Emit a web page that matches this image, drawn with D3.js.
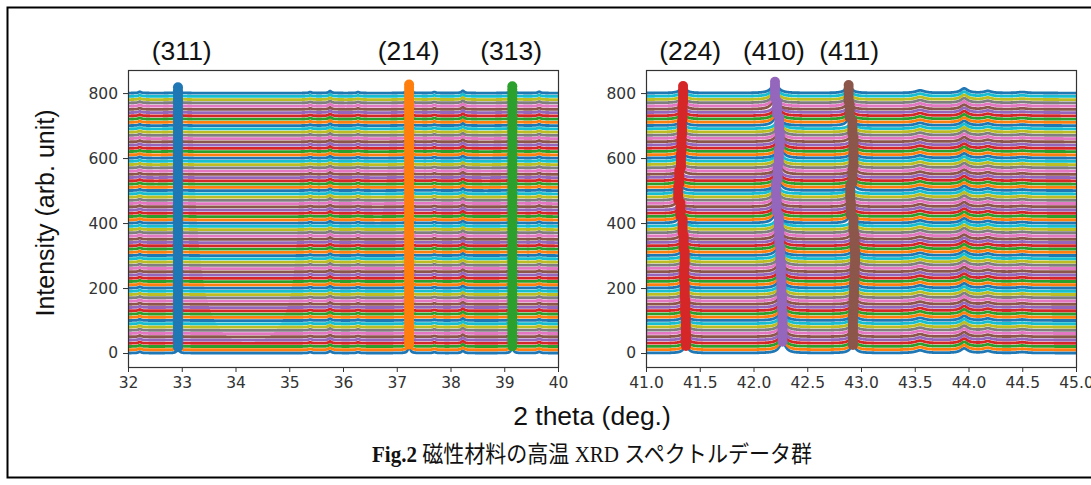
<!DOCTYPE html>
<html>
<head>
<meta charset="utf-8">
<script src="https://cdn.jsdelivr.net/npm/d3@7"></script>
<style>
  body { margin: 0; background: #fff; }
  svg text { font-family: "Liberation Sans", Arial, sans-serif; fill: #111; }
  .axis text { font-family: "DejaVu Sans", sans-serif; font-size: 15.5px; fill: #333; }
  .axis path, .axis line { stroke: #333; }
  .caption { font-family: "Liberation Serif", "Noto Sans CJK JP", serif; }
</style>
</head>
<body>
<div id="chart"></div>
<script>
var width = 1091;
var height = 485;

var tab10 = ['#1f77b4', '#ff7f0e', '#2ca02c', '#d62728', '#9467bd',
             '#8c564b', '#e377c2', '#7f7f7f', '#bcbd22', '#17becf'];

// one spectrum every 10 counts, 81 of them
var offsets = d3.range(0, 801, 10);

// left window 32-40 deg : peak centre, height, half width
var leftPeakPos    = [32.22, 32.93, 35.39, 35.76, 36.28, 37.23, 37.70, 38.23, 39.15, 39.65];
var leftPeakHeight = [4, 18, 3, 6, 3, 26, 3, 7, 21, 4];
var leftPeakWidth  = [0.03, 0.022, 0.03, 0.03, 0.03, 0.022, 0.03, 0.03, 0.022, 0.03];
var leftLabels     = ['(311)', '(214)', '(313)'];
var leftMarkPos    = [32.93, 37.23, 39.15];
var leftMarkHeight = [18, 26, 21];
var leftMarkColor  = ['#1f77b4', '#ff7f0e', '#2ca02c'];
var leftLabelPos   = [33.0, 37.22, 39.13];

// right window 41-45 deg
var rightMinorPos    = [43.55, 43.96, 44.18, 44.50];
var rightMinorHeight = [8, 14, 6, 3];
var rightMinorWidth  = [0.05, 0.04, 0.04, 0.05];
var rightLabels      = ['(224)', '(410)', '(411)'];
var rightMarkHeight  = [22, 35, 25];
var rightMarkWidth   = [0.028, 0.034, 0.03];
var rightMarkColor   = ['#d62728', '#9467bd', '#8c564b'];
var rightLabelPos    = [41.41, 42.19, 42.89];

// peak centres of the shifting reflections, one value per 5 spectra (bottom first)
var pos224 = [41.372, 41.370, 41.365, 41.360, 41.355, 41.360, 41.350, 41.340, 41.320,
              41.300, 41.310, 41.325, 41.330, 41.335, 41.340, 41.345, 41.345];
var pos410 = [42.270, 42.270, 42.265, 42.260, 42.255, 42.250, 42.240, 42.235, 42.215,
              42.210, 42.225, 42.235, 42.245, 42.240, 42.220, 42.200, 42.200];
var pos411 = [42.925, 42.925, 42.930, 42.935, 42.940, 42.945, 42.940, 42.930, 42.905,
              42.900, 42.920, 42.930, 42.930, 42.920, 42.895, 42.885, 42.885];

var yTicks = [0, 200, 400, 600, 800];
var leftTicks = d3.range(32, 40.5, 1);
var rightTicks = d3.range(41, 45.1, 0.5);

var svg = d3.select('#chart')
  .append('svg')
  .attr('width', width)
  .attr('height', height);

// frame around the figure
svg.append('rect')
  .attr('x', 7.5).attr('y', 7.5)
  .attr('width', 1090).attr('height', 470)
  .attr('fill', 'none')
  .attr('stroke', '#000')
  .attr('stroke-width', 2);

var plotTop = 70, plotBottom = 367;

function lorentz (x, c, h, w) {
  var t = (x - c) / w;
  return h / (1 + t * t);
}

function peaksFor (side, i) {
  var g = Math.floor(i / 5);
  var list = [];
  if (side === 'left') {
    leftPeakPos.forEach(function (p, k) {
      list.push({ c: p, h: leftPeakHeight[k], w: leftPeakWidth[k] });
    });
  } else {
    [pos224, pos410, pos411].forEach(function (arr, k) {
      list.push({ c: arr[g], h: rightMarkHeight[k], w: rightMarkWidth[k] });
    });
    rightMinorPos.forEach(function (p, k) {
      list.push({ c: p, h: rightMinorHeight[k], w: rightMinorWidth[k] });
    });
  }
  return list;
}

function drawPanel (opts) {
  var x = d3.scaleLinear().domain(opts.domain).range([opts.x0, opts.x1]);
  var y = d3.scaleLinear().domain([-43, 871]).range([plotBottom, plotTop]);

  var g = svg.append('g');

  g.append('clipPath').attr('id', 'clip-' + opts.side)
    .append('rect')
    .attr('x', opts.x0).attr('y', plotTop)
    .attr('width', opts.x1 - opts.x0).attr('height', plotBottom - plotTop);

  var plot = g.append('g').attr('clip-path', 'url(#clip-' + opts.side + ')');

  var grid = d3.range(opts.domain[0], opts.domain[1] + 1e-9, opts.step);
  var line = d3.line()
    .x(function (d) { return x(d[0]); })
    .y(function (d) { return y(d[1]); });

  offsets.forEach(function (off, i) {
    var peaks = peaksFor(opts.side, i);
    var pts = grid.map(function (t) {
      var v = off;
      peaks.forEach(function (p) { v += lorentz(t, p.c, p.h, p.w); });
      return [t, v];
    });
    plot.append('path')
      .attr('d', line(pts))
      .attr('fill', 'none')
      .attr('stroke', tab10[i % 10])
      .attr('stroke-width', 2.8)
      .attr('stroke-linejoin', 'round');
  });

  // peak markers on every spectrum
  opts.marks.forEach(function (m, k) {
    plot.selectAll('.mark' + k)
      .data(offsets)
      .enter()
      .append('circle')
      .attr('cx', function (off, i) { return x(m.pos(i)); })
      .attr('cy', function (off) { return y(off + m.h); })
      .attr('r', 5)
      .attr('fill', m.color);
  });

  g.append('g')
    .attr('class', 'axis')
    .attr('transform', 'translate(0,' + plotBottom + ')')
    .call(d3.axisBottom(x).tickValues(opts.ticks).tickFormat(opts.format).tickSize(5).tickPadding(5));

  g.append('g')
    .attr('class', 'axis')
    .attr('transform', 'translate(' + opts.x0 + ',0)')
    .call(d3.axisLeft(y).tickValues(yTicks).tickFormat(d3.format('d')).tickSize(5).tickPadding(5));

  g.selectAll('.axis .domain').remove();
  g.append('rect')
    .attr('x', opts.x0 + 0.5).attr('y', plotTop + 0.5)
    .attr('width', opts.x1 - opts.x0).attr('height', plotBottom - plotTop)
    .attr('fill', 'none')
    .attr('stroke', '#333')
    .attr('stroke-width', 1.2);

  g.selectAll('.hkl')
    .data(opts.labels)
    .enter()
    .append('text')
    .attr('x', function (d, k) { return x(opts.labelPos[k]); })
    .attr('y', 60)
    .attr('text-anchor', 'middle')
    .style('font-size', '26.5px')
    .text(function (d) { return d; });
}

drawPanel({
  side: 'left', domain: [32, 40], x0: 128, x1: 558, step: 0.004,
  ticks: leftTicks, format: d3.format('d'),
  labels: leftLabels, labelPos: leftLabelPos,
  marks: leftMarkPos.map(function (p, k) {
    return { pos: function () { return p; }, h: leftMarkHeight[k], color: leftMarkColor[k] };
  })
});

drawPanel({
  side: 'right', domain: [41, 45], x0: 646, x1: 1076, step: 0.002,
  ticks: rightTicks, format: d3.format('.1f'),
  labels: rightLabels, labelPos: rightLabelPos,
  marks: [pos224, pos410, pos411].map(function (arr, k) {
    return { pos: function (i) { return arr[Math.floor(i / 5)]; }, h: rightMarkHeight[k], color: rightMarkColor[k] };
  })
});

svg.append('text')
  .attr('transform', 'translate(54,213) rotate(-90)')
  .attr('text-anchor', 'middle')
  .style('font-size', '25px')
  .text('Intensity (arb. unit)');

svg.append('text')
  .attr('x', 592)
  .attr('y', 425)
  .attr('text-anchor', 'middle')
  .style('font-size', '26.5px')
  .text('2 theta (deg.)');

var cap = svg.append('text')
  .attr('class', 'caption')
  .attr('x', 592)
  .attr('y', 462)
  .attr('text-anchor', 'middle')
  .attr('textLength', 440)
  .attr('lengthAdjust', 'spacingAndGlyphs')
  .style('font-size', '23px');
cap.append('tspan').style('font-weight', 'bold').text('Fig.2');
cap.append('tspan').text(' 磁性材料の高温 XRD スペクトルデータ群');
</script>
</body>
</html>
